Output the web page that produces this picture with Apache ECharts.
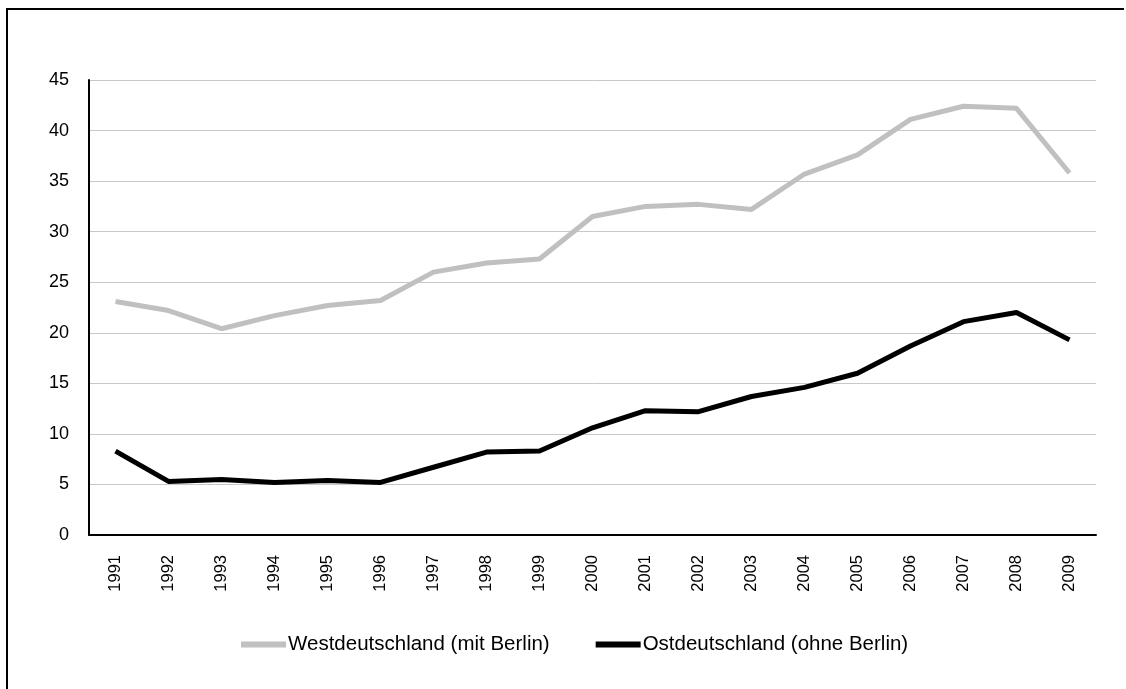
<!DOCTYPE html>
<html>
<head>
<meta charset="utf-8">
<script src="https://cdn.jsdelivr.net/npm/echarts@6/dist/echarts.min.js"></script>
<style>
html,body{margin:0;padding:0;background:#fff;}
#chart{position:absolute;left:0;top:0;width:1126px;height:689px;}
#frame{position:absolute;left:6px;top:8px;width:1116px;height:700px;border-top:2px solid #000;border-left:2px solid #000;pointer-events:none;}
</style>
</head>
<body>
<div id="chart"></div>
<div id="frame"></div>
<script>
var years = ['1991','1992','1993','1994','1995','1996','1997','1998','1999','2000','2001','2002','2003','2004','2005','2006','2007','2008','2009'];
var west = [23.1,22.2,20.4,21.7,22.7,23.2,26.0,26.9,27.3,31.5,32.5,32.7,32.2,35.7,37.6,41.1,42.4,42.2,35.8];
var east = [8.3,5.3,5.5,5.2,5.4,5.2,6.7,8.2,8.3,10.6,12.3,12.2,13.7,14.6,16.0,18.7,21.1,22.0,19.3];
var seriesNames = ['Westdeutschland (mit Berlin)','Ostdeutschland (ohne Berlin)'];
var yTicks = [0,45,5];

var chart = echarts.init(document.getElementById('chart'));
var font = "'Liberation Sans', Arial, sans-serif";
chart.setOption({
  animation:false,
  backgroundColor:'#fff',
  grid:{left:89,right:30,top:80,bottom:154,containLabel:false},
  legend:{
    left:236, top:629,
    itemWidth:45, itemHeight:6, itemGap:46,
    icon:'rect',
    textStyle:{fontFamily:font,fontSize:20.5,color:'#000',padding:[0,0,0,-3]},
    data:seriesNames
  },
  xAxis:{
    type:'category', data:years, boundaryGap:true,
    axisLine:{lineStyle:{color:'#000',width:2}},
    axisTick:{show:false},
    axisLabel:{rotate:90,margin:20,fontFamily:font,fontSize:16.5,color:'#000',interval:0}
  },
  yAxis:{
    type:'value', min:yTicks[0], max:yTicks[1], interval:yTicks[2],
    axisLine:{show:true,lineStyle:{color:'#000',width:2}},
    axisTick:{show:false},
    splitLine:{lineStyle:{color:'#c8c8c8',width:1}},
    axisLabel:{margin:20,fontFamily:font,fontSize:18,color:'#000'}
  },
  series:[
    {name:seriesNames[0],type:'line',data:west,symbol:'none',lineStyle:{color:'#c0c0c0',width:5},itemStyle:{color:'#c0c0c0'}},
    {name:seriesNames[1],type:'line',data:east,symbol:'none',lineStyle:{color:'#000',width:5},itemStyle:{color:'#000'}}
  ]
});
</script>
</body>
</html>
